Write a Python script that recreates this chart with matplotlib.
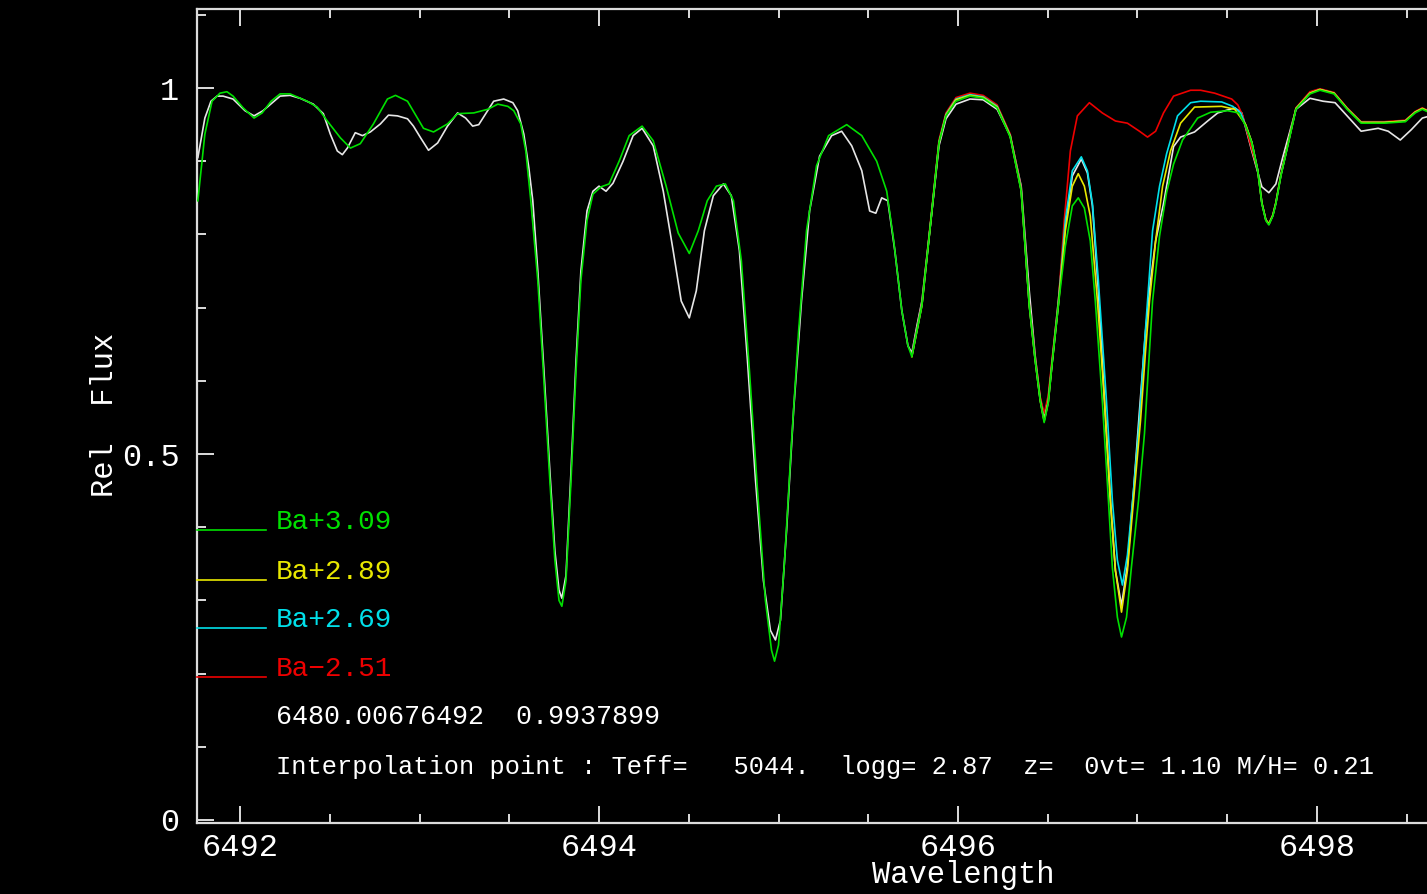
import matplotlib
matplotlib.use("Agg")
import matplotlib.pyplot as plt
from matplotlib.ticker import MultipleLocator, FixedLocator

# ---------------- data ----------------
# Observed spectrum (white)
obs_wave = [6491.765, 6491.804, 6491.838, 6491.872, 6491.905, 6491.961, 6492.028, 6492.078, 6492.128,
            6492.223, 6492.279, 6492.335, 6492.408, 6492.464, 6492.503, 6492.542, 6492.570, 6492.598,
            6492.642, 6492.682, 6492.726, 6492.782, 6492.827, 6492.877, 6492.933, 6492.966, 6493.006,
            6493.050, 6493.101, 6493.156, 6493.212, 6493.257, 6493.296, 6493.330, 6493.369, 6493.413,
            6493.469, 6493.520, 6493.547, 6493.581, 6493.609, 6493.631, 6493.659, 6493.693, 6493.726,
            6493.754, 6493.777, 6493.793, 6493.816, 6493.844, 6493.872, 6493.899, 6493.933, 6493.966,
            6494.000, 6494.039, 6494.078, 6494.134, 6494.190, 6494.240, 6494.302, 6494.358, 6494.413,
            6494.458, 6494.503, 6494.542, 6494.587, 6494.637, 6494.693, 6494.737, 6494.782, 6494.827,
            6494.872, 6494.916, 6494.955, 6494.983, 6495.011, 6495.045, 6495.084, 6495.128, 6495.173,
            6495.229, 6495.296, 6495.352, 6495.408, 6495.464, 6495.508, 6495.542, 6495.575, 6495.609,
            6495.648, 6495.687, 6495.721, 6495.743, 6495.771, 6495.799, 6495.849, 6495.894, 6495.933,
            6495.989, 6496.067, 6496.140, 6496.218, 6496.291, 6496.352, 6496.397, 6496.430, 6496.458,
            6496.480, 6496.503, 6496.525, 6496.559, 6496.598, 6496.637, 6496.687, 6496.721, 6496.749,
            6496.782, 6496.816, 6496.849, 6496.877, 6496.911, 6496.944, 6496.978, 6497.011, 6497.045,
            6497.073, 6497.101, 6497.145, 6497.201, 6497.240, 6497.318, 6497.391, 6497.447, 6497.542,
            6497.581, 6497.637, 6497.693, 6497.732, 6497.771, 6497.810, 6497.883, 6497.961, 6498.034,
            6498.101, 6498.168, 6498.246, 6498.341, 6498.397, 6498.464, 6498.525, 6498.587, 6498.631]
obs_flux = [0.905, 0.959, 0.982, 0.989, 0.989, 0.985, 0.969, 0.962, 0.969,
            0.989, 0.990, 0.986, 0.978, 0.965, 0.937, 0.914, 0.909, 0.918,
            0.939, 0.935, 0.940, 0.951, 0.963, 0.962, 0.958, 0.948, 0.932,
            0.915, 0.925, 0.948, 0.966, 0.959, 0.948, 0.950, 0.965, 0.982,
            0.985, 0.980, 0.969, 0.937, 0.891, 0.846, 0.750, 0.614, 0.477,
            0.368, 0.314, 0.303, 0.334, 0.477, 0.628, 0.750, 0.832, 0.859,
            0.866, 0.859, 0.870, 0.900, 0.935, 0.945, 0.921, 0.859, 0.778,
            0.709, 0.686, 0.723, 0.805, 0.853, 0.869, 0.853, 0.778, 0.628,
            0.464, 0.327, 0.259, 0.246, 0.273, 0.396, 0.559, 0.709, 0.832,
            0.907, 0.935, 0.941, 0.921, 0.887, 0.832, 0.829, 0.850, 0.846,
            0.778, 0.696, 0.648, 0.638, 0.675, 0.709, 0.819, 0.921, 0.958,
            0.978, 0.985, 0.984, 0.971, 0.935, 0.866, 0.723, 0.634, 0.576,
            0.551, 0.576, 0.628, 0.709, 0.812, 0.880, 0.903, 0.884, 0.839,
            0.723, 0.573, 0.437, 0.341, 0.293, 0.348, 0.450, 0.559, 0.668,
            0.737, 0.791, 0.842, 0.920, 0.933, 0.940, 0.955, 0.966, 0.973,
            0.966, 0.914, 0.865, 0.857, 0.869, 0.906, 0.971, 0.986, 0.982,
            0.980, 0.962, 0.941, 0.945, 0.941, 0.929, 0.943, 0.959, 0.962]

# Synthetic, Ba+3.09 (green)
g_wave = [6491.765, 6491.804, 6491.844, 6491.888, 6491.927, 6491.961, 6492.017, 6492.078, 6492.123,
          6492.173, 6492.223, 6492.279, 6492.374, 6492.430, 6492.486, 6492.559, 6492.615, 6492.670,
          6492.743, 6492.821, 6492.866, 6492.933, 6493.022, 6493.078, 6493.156, 6493.212, 6493.302,
          6493.380, 6493.436, 6493.492, 6493.525, 6493.564, 6493.592, 6493.620, 6493.659, 6493.693,
          6493.726, 6493.754, 6493.777, 6493.793, 6493.816, 6493.844, 6493.872, 6493.899, 6493.933,
          6493.966, 6494.011, 6494.056, 6494.112, 6494.168, 6494.240, 6494.302, 6494.374, 6494.441,
          6494.503, 6494.553, 6494.603, 6494.654, 6494.704, 6494.749, 6494.793, 6494.838, 6494.883,
          6494.927, 6494.961, 6494.978, 6495.000, 6495.034, 6495.073, 6495.112, 6495.156, 6495.212,
          6495.279, 6495.380, 6495.464, 6495.547, 6495.603, 6495.642, 6495.687, 6495.721, 6495.743,
          6495.771, 6495.799, 6495.849, 6495.894, 6495.933, 6495.989, 6496.067, 6496.140, 6496.218,
          6496.291, 6496.352, 6496.397, 6496.430, 6496.458, 6496.480, 6496.503, 6496.525, 6496.559,
          6496.598, 6496.637, 6496.670, 6496.704, 6496.737, 6496.765, 6496.804, 6496.838, 6496.860,
          6496.888, 6496.911, 6496.939, 6496.966, 6497.006, 6497.039, 6497.061, 6497.084, 6497.123,
          6497.162, 6497.201, 6497.251, 6497.335, 6497.408, 6497.503, 6497.564, 6497.603, 6497.637,
          6497.670, 6497.693, 6497.715, 6497.732, 6497.754, 6497.771, 6497.799, 6497.827, 6497.883,
          6497.961, 6498.017, 6498.095, 6498.168, 6498.246, 6498.374, 6498.492, 6498.547, 6498.587,
          6498.631]
g_flux = [0.846, 0.937, 0.982, 0.993, 0.995, 0.989, 0.973, 0.959, 0.966,
          0.982, 0.992, 0.992, 0.982, 0.974, 0.955, 0.932, 0.918, 0.924,
          0.951, 0.985, 0.990, 0.982, 0.945, 0.940, 0.951, 0.965, 0.966,
          0.971, 0.978, 0.975, 0.969, 0.951, 0.914, 0.846, 0.737, 0.600,
          0.464, 0.355, 0.300, 0.292, 0.327, 0.464, 0.614, 0.737, 0.819,
          0.855, 0.865, 0.869, 0.900, 0.935, 0.948, 0.928, 0.866, 0.802,
          0.774, 0.805, 0.846, 0.866, 0.869, 0.846, 0.764, 0.614, 0.450,
          0.300, 0.232, 0.217, 0.239, 0.355, 0.518, 0.668, 0.805, 0.894,
          0.935, 0.950, 0.935, 0.900, 0.859, 0.791, 0.696, 0.648, 0.633,
          0.668, 0.703, 0.819, 0.925, 0.962, 0.982, 0.989, 0.986, 0.973,
          0.933, 0.859, 0.703, 0.628, 0.573, 0.543, 0.570, 0.625, 0.703,
          0.784, 0.839, 0.850, 0.836, 0.791, 0.709, 0.573, 0.437, 0.345,
          0.277, 0.250, 0.277, 0.345, 0.437, 0.528, 0.618, 0.709, 0.798,
          0.857, 0.896, 0.929, 0.959, 0.967, 0.969, 0.966, 0.948, 0.925,
          0.887, 0.842, 0.819, 0.813, 0.825, 0.842, 0.880, 0.910, 0.971,
          0.992, 0.997, 0.992, 0.971, 0.952, 0.952, 0.954, 0.966, 0.971,
          0.966]

# Synthetic, Ba+2.89 (yellow)
y_wave = [6495.743, 6495.771, 6495.799, 6495.849, 6495.894, 6495.933, 6495.989, 6496.067, 6496.140,
          6496.218, 6496.291, 6496.352, 6496.397, 6496.430, 6496.458, 6496.480, 6496.503, 6496.525,
          6496.559, 6496.598, 6496.637, 6496.670, 6496.704, 6496.737, 6496.777, 6496.816, 6496.849,
          6496.877, 6496.911, 6496.944, 6496.978, 6497.017, 6497.045, 6497.067, 6497.101, 6497.140,
          6497.184, 6497.240, 6497.318, 6497.469, 6497.542, 6497.603, 6497.637, 6497.670, 6497.693,
          6497.715, 6497.732, 6497.754, 6497.771, 6497.799, 6497.827, 6497.883, 6497.961, 6498.017,
          6498.095, 6498.168, 6498.246, 6498.374, 6498.492, 6498.547, 6498.587, 6498.631]
y_flux = [0.633, 0.668, 0.703, 0.819, 0.925, 0.963, 0.984, 0.990, 0.987,
          0.974, 0.934, 0.860, 0.703, 0.628, 0.573, 0.545, 0.571, 0.625,
          0.703, 0.805, 0.866, 0.883, 0.866, 0.825, 0.709, 0.573, 0.437,
          0.341, 0.284, 0.341, 0.437, 0.546, 0.641, 0.709, 0.791, 0.866,
          0.914, 0.952, 0.974, 0.975, 0.971, 0.950, 0.926, 0.887, 0.843,
          0.820, 0.814, 0.826, 0.843, 0.881, 0.911, 0.972, 0.993, 0.998,
          0.993, 0.972, 0.953, 0.953, 0.955, 0.967, 0.972, 0.967]

# Synthetic, Ba+2.69 (cyan)
c_wave = [6495.743, 6495.771, 6495.799, 6495.849, 6495.894, 6495.933, 6495.989, 6496.067, 6496.140,
          6496.218, 6496.291, 6496.352, 6496.397, 6496.430, 6496.458, 6496.480, 6496.503, 6496.525,
          6496.559, 6496.598, 6496.637, 6496.687, 6496.721, 6496.749, 6496.782, 6496.827, 6496.860,
          6496.888, 6496.916, 6496.944, 6496.978, 6497.011, 6497.036, 6497.056, 6497.084, 6497.123,
          6497.162, 6497.223, 6497.296, 6497.352, 6497.469, 6497.531, 6497.575, 6497.603, 6497.637,
          6497.670, 6497.693, 6497.715, 6497.732, 6497.754, 6497.771, 6497.799, 6497.827, 6497.883,
          6497.961, 6498.017, 6498.095, 6498.168, 6498.246, 6498.374, 6498.492, 6498.547, 6498.587,
          6498.631]
c_flux = [0.634, 0.669, 0.704, 0.820, 0.926, 0.964, 0.985, 0.991, 0.988,
          0.975, 0.935, 0.861, 0.704, 0.629, 0.574, 0.546, 0.572, 0.626,
          0.704, 0.819, 0.887, 0.906, 0.887, 0.842, 0.737, 0.573, 0.437,
          0.355, 0.321, 0.362, 0.450, 0.546, 0.641, 0.709, 0.805, 0.866,
          0.910, 0.962, 0.980, 0.982, 0.981, 0.975, 0.966, 0.949, 0.926,
          0.888, 0.843, 0.820, 0.814, 0.826, 0.843, 0.881, 0.911, 0.972,
          0.993, 0.998, 0.993, 0.972, 0.953, 0.953, 0.955, 0.967, 0.972,
          0.967]

# Synthetic, Ba-2.51 (red)
r_wave = [6495.743, 6495.771, 6495.799, 6495.849, 6495.894, 6495.933, 6495.989, 6496.067, 6496.140,
          6496.218, 6496.291, 6496.352, 6496.397, 6496.430, 6496.458, 6496.480, 6496.503, 6496.525,
          6496.559, 6496.592, 6496.626, 6496.665, 6496.732, 6496.804, 6496.877, 6496.944, 6497.011,
          6497.056, 6497.101, 6497.145, 6497.201, 6497.296, 6497.352, 6497.430, 6497.525, 6497.559,
          6497.587, 6497.626, 6497.670, 6497.693, 6497.715, 6497.732, 6497.754, 6497.771, 6497.799,
          6497.827, 6497.883, 6497.961, 6498.017, 6498.095, 6498.168, 6498.246, 6498.374, 6498.492,
          6498.547, 6498.587, 6498.631]
r_flux = [0.635, 0.670, 0.706, 0.823, 0.929, 0.966, 0.987, 0.993, 0.990,
          0.977, 0.937, 0.863, 0.706, 0.632, 0.578, 0.555, 0.580, 0.632,
          0.706, 0.819, 0.914, 0.962, 0.980, 0.966, 0.955, 0.952, 0.941,
          0.933, 0.941, 0.966, 0.989, 0.997, 0.997, 0.993, 0.985, 0.977,
          0.962, 0.926, 0.888, 0.843, 0.820, 0.815, 0.827, 0.844, 0.882,
          0.912, 0.973, 0.995, 0.999, 0.994, 0.973, 0.954, 0.954, 0.956,
          0.968, 0.973, 0.968]

series_labels = ["Ba+3.09", "Ba+2.89", "Ba+2.69", "Ba\u22122.51"]
series_colors = ["#00e000", "#e8e800", "#00e0ea", "#ee0000"]
obs_color = "#e6e6e6"

x_major = [6492, 6494, 6496, 6498]
y_major = [0, 0.5, 1]
y_major_labels = ["0", "0.5", "1"]

info_line1 = "6480.00676492  0.9937899"
info_line2 = "Interpolation point : Teff=   5044.  logg= 2.87  z=  0vt= 1.10 M/H= 0.21"

# ---------------- figure ----------------
W, H = 1427, 894
fig = plt.figure(figsize=(W / 100, H / 100), dpi=100, facecolor="black")
ax = fig.add_axes([197.5 / W, (H - 823) / H, 1 - 197.5 / W, (823 - 9) / H], facecolor="black")

FONT = "Liberation Mono"
frame_col = "#dcdcdc"

ax.plot(obs_wave, obs_flux, color=obs_color, lw=1.2, zorder=2)
ax.plot(r_wave, r_flux, color=series_colors[3], lw=1.2, zorder=3)
ax.plot(c_wave, c_flux, color=series_colors[2], lw=1.2, zorder=4)
ax.plot(y_wave, y_flux, color=series_colors[1], lw=1.2, zorder=5)
ax.plot(g_wave, g_flux, color=series_colors[0], lw=1.2, zorder=6)

ax.set_xlim(6491.763, 6498.613)
ax.set_ylim(-0.0041, 1.108)

for side in ["left", "top", "bottom"]:
    ax.spines[side].set_color(frame_col)
    ax.spines[side].set_linewidth(1.6)
ax.spines["right"].set_visible(False)

ax.xaxis.set_major_locator(FixedLocator(x_major))
ax.xaxis.set_minor_locator(MultipleLocator(0.5))
ax.yaxis.set_major_locator(FixedLocator(y_major))
ax.yaxis.set_minor_locator(MultipleLocator(0.1))
ax.set_xticklabels([str(v) for v in x_major])
ax.set_yticklabels(y_major_labels)

ax.tick_params(which="both", direction="in", top=True, right=False, colors=frame_col, width=1.4)
ax.tick_params(which="major", length=12.5)
ax.tick_params(which="minor", length=6.3)
ax.tick_params(axis="x", which="major", pad=7, labelsize=23, labelcolor="white")
ax.tick_params(axis="y", which="major", pad=13, labelsize=23, labelcolor="white")
for lab in ax.get_xticklabels() + ax.get_yticklabels():
    lab.set_fontfamily(FONT)

ax.set_xlabel("Wavelength", fontsize=22, color="white", family=FONT)
ax.xaxis.set_label_coords((963 - 197.5) / (W - 197.5), (823 - 875) / 814)
ax.xaxis.label.set_va("center")
ax.set_ylabel("Rel  Flux", fontsize=22, color="white", family=FONT)
ax.yaxis.set_label_coords((105 - 197.5) / (W - 197.5), 0.501)
ax.yaxis.label.set_va("center")

# legend drawn as in the original (line + coloured label)
leg_line_y = [0.396, 0.328, 0.262, 0.195]
leg_text_y = [0.407, 0.339, 0.273, 0.206]
x0 = 0.0
x1 = (266 - 197.5) / (W - 197.5)
xt = (276 - 197.5) / (W - 197.5)
trans = ax.get_yaxis_transform()  # x in axes fraction, y in data
for lbl, col, ly, ty in zip(series_labels, series_colors, leg_line_y, leg_text_y):
    ax.plot([x0, x1], [ly, ly], color=col, lw=1.2, transform=trans, clip_on=False, zorder=7)
    ax.text(xt, ty, lbl, color=col, fontsize=20, family=FONT, va="center", ha="left", transform=trans)

ax.text(xt, 0.141, info_line1, color="white", fontsize=19.3, family=FONT, va="center", ha="left", transform=trans)
ax.text(xt, 0.072, info_line2, color="white", fontsize=18.3, family=FONT, va="center", ha="left", transform=trans)

fig.savefig("out.png", dpi=100, facecolor="black")
